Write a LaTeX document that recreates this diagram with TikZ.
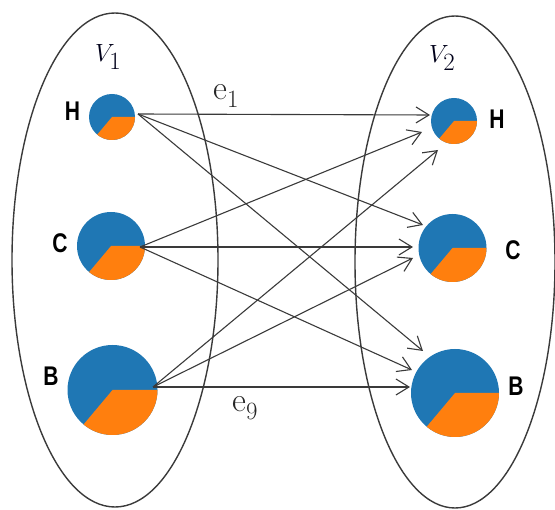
\documentclass[tikz,border=0pt]{standalone}
\usepackage{fontspec}
\newfontfamily\lblfont{Liberation Sans}
\usetikzlibrary{arrows.meta,calc}
\definecolor{pieblue}{HTML}{1F77B4}
\definecolor{pieorange}{HTML}{FF7F0E}
\definecolor{edgegray}{HTML}{3A3A3A}
\newcommand\pieslice[2]{\fill[pieorange] (#1.center) -- ++(#2,0) arc[start angle=0,end angle=130,radius=#2] -- cycle;}
\begin{document}
\begin{tikzpicture}[x=1pt,y=-1pt,
  pie/.style={circle,fill=pieblue,inner sep=0pt,minimum size=#1},
  setline/.style={draw=edgegray,line width=1.4pt},
  edge/.style={draw=edgegray,line width=1.1pt,-{Straight Barb[length=13pt,width=16pt,line width=1.1pt]}},
  lbl/.style={font=\lblfont\bfseries\fontsize{27}{32}\selectfont,inner sep=0pt},
  setlbl/.style={font=\fontsize{33}{40}\selectfont,inner sep=0pt,anchor=base west,text=black!90!blue},
  elbl/.style={font=\fontsize{34}{40}\selectfont,inner sep=0pt,anchor=base west,text=black!85}]
\useasboundingbox (0,0) rectangle (555,510);
\draw[setline] (115,260) ellipse [x radius=103, y radius=247];
\draw[setline] (455,262) ellipse [x radius=100, y radius=246];
% pies
\node[pie=46pt] (lH) at (112,117) {};
\node[pie=68pt] (lC) at (111,246) {};
\node[pie=90pt] (lB) at (112.5,390) {};
\node[pie=46pt] (rH) at (454,121) {};
\node[pie=68pt] (rC) at (452.5,248) {};
\node[pie=88pt] (rB) at (455,393) {};
\pieslice{lH}{23}
\pieslice{lC}{34}
\pieslice{lB}{45}
\pieslice{rH}{23}
\pieslice{rC}{34}
\pieslice{rB}{44}
% labels
\node[lbl] (lHl) at (72.5,111) {\scalebox{0.78}[1]{H}};
\node[lbl] (lCl) at (60,243) {\scalebox{0.78}[1]{C}};
\node[lbl] (lBl) at (51,376) {\scalebox{0.78}[1]{B}};
\node[lbl] (rHl) at (497,119) {\scalebox{0.78}[1]{H}};
\node[lbl] (rCl) at (513,250) {\scalebox{0.78}[1]{C}};
\node[lbl] (rBl) at (516,386) {\scalebox{0.78}[1]{B}};
\node[setlbl] (v1) at (95,62) {$V_1$};
\node[setlbl] (v2) at (429,63) {$V_2$};
\node[elbl] (e1) at (213,100) {$\mathrm{e}_1$};
\node[elbl] (e9) at (232,412) {$\mathrm{e}_9$};
% edges
\draw[edge] ($(lH)+(26,-3)$) -- ($(rH)+(-24,-6)$);
\draw[edge] ($(lH)+(26,-3)$) -- ($(rC)+(-29.5,-23)$);
\draw[edge] ($(lH)+(26,-3)$) -- ($(rB)+(-32,-42)$);
\draw[edge] ($(lC)+(29,1)$) -- ($(rH)+(-32,11)$);
\draw[edge] ($(lC)+(29,1)$) -- ($(rC)+(-39.5,-1)$);
\draw[edge] ($(lC)+(29,1)$) -- ($(rB)+(-43,-23)$);
\draw[edge] ($(lB)+(40.5,-3)$) -- ($(rH)+(-16,29)$);
\draw[edge] ($(lB)+(40.5,-3)$) -- ($(rC)+(-39.5,10)$);
\draw[edge] ($(lB)+(40.5,-3)$) -- ($(rB)+(-45,-6)$);
\end{tikzpicture}
\end{document}
